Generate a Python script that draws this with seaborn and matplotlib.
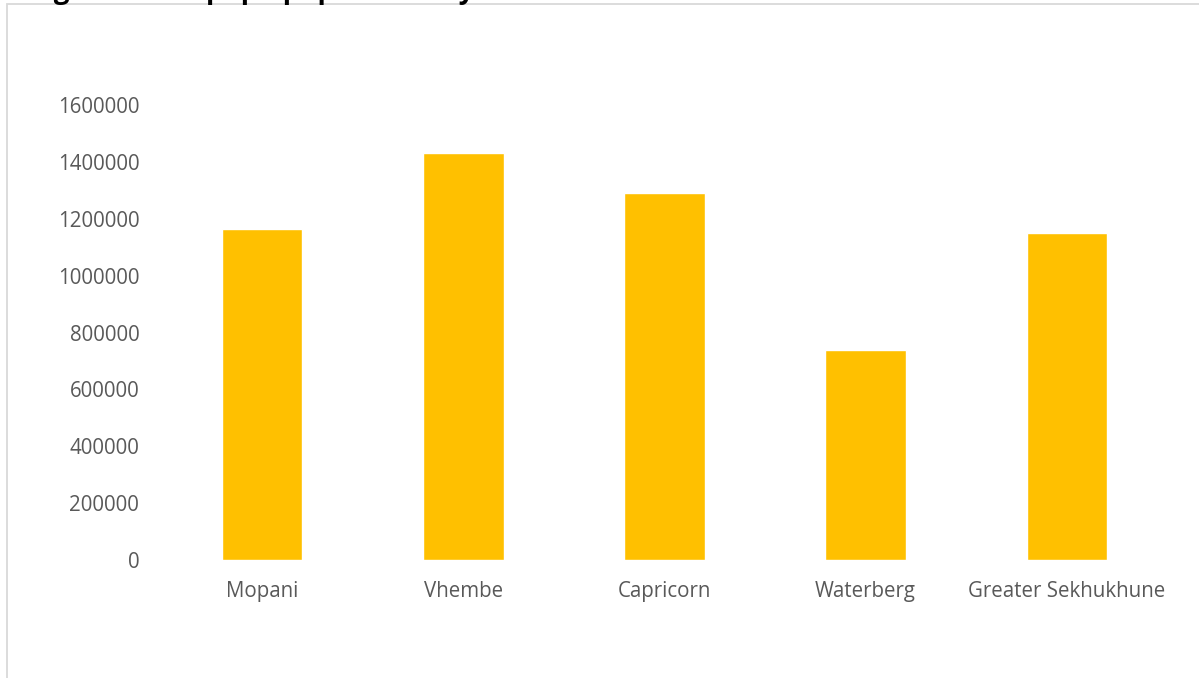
import matplotlib
matplotlib.use("Agg")
import matplotlib.pyplot as plt
import seaborn as sns
import pandas as pd
from matplotlib.patches import Rectangle

districts = ["Mopani", "Vhembe", "Capricorn", "Waterberg", "Greater Sekhukhune"]
population = [1164000, 1431000, 1291000, 739000, 1150000]
yticks = [0, 200000, 400000, 600000, 800000, 1000000, 1200000, 1400000, 1600000]

df = pd.DataFrame({"district": districts, "population": population})

sns.set_style("white")
plt.rcParams['font.family'] = ['Open Sans', 'DejaVu Sans']

fig = plt.figure(figsize=(11.99, 6.78), dpi=100)
ax = fig.add_axes([0.1347, 0.174, 0.839, 0.6711])

sns.barplot(data=df, x="district", y="population", color="#FFC000",
            saturation=1, width=0.4, ax=ax)

ax.set_xlim(-0.5, len(districts) - 0.5)
ax.set_ylim(0, 1600000)
ax.set_yticks(yticks)
ax.set_yticklabels([str(t) for t in yticks])
ax.set_xlabel("")
ax.set_ylabel("")
for s in ax.spines.values():
    s.set_visible(False)
ax.tick_params(axis='both', length=0, labelsize=14.8, labelcolor='#595959')
ax.tick_params(axis='y', pad=16)
ax.tick_params(axis='x', pad=15)
ax.grid(False)

# chart frame
fig.patches.append(Rectangle((6.5 / 1199, -0.05), 1.2, 1 - 4.5 / 678 + 0.05,
                             transform=fig.transFigure, fill=False,
                             edgecolor='#d9d9d9', linewidth=1.3, clip_on=False))

# cut-off title (only its descenders show at the top edge, as in the reference)
fig.text(30 / 1199, 1.0 + 2 / 678, "Figure 2: Limpopo population by district",
         fontsize=20, fontweight='bold', color='black', ha='left', va='baseline')

fig.savefig("out.png", dpi=100)
